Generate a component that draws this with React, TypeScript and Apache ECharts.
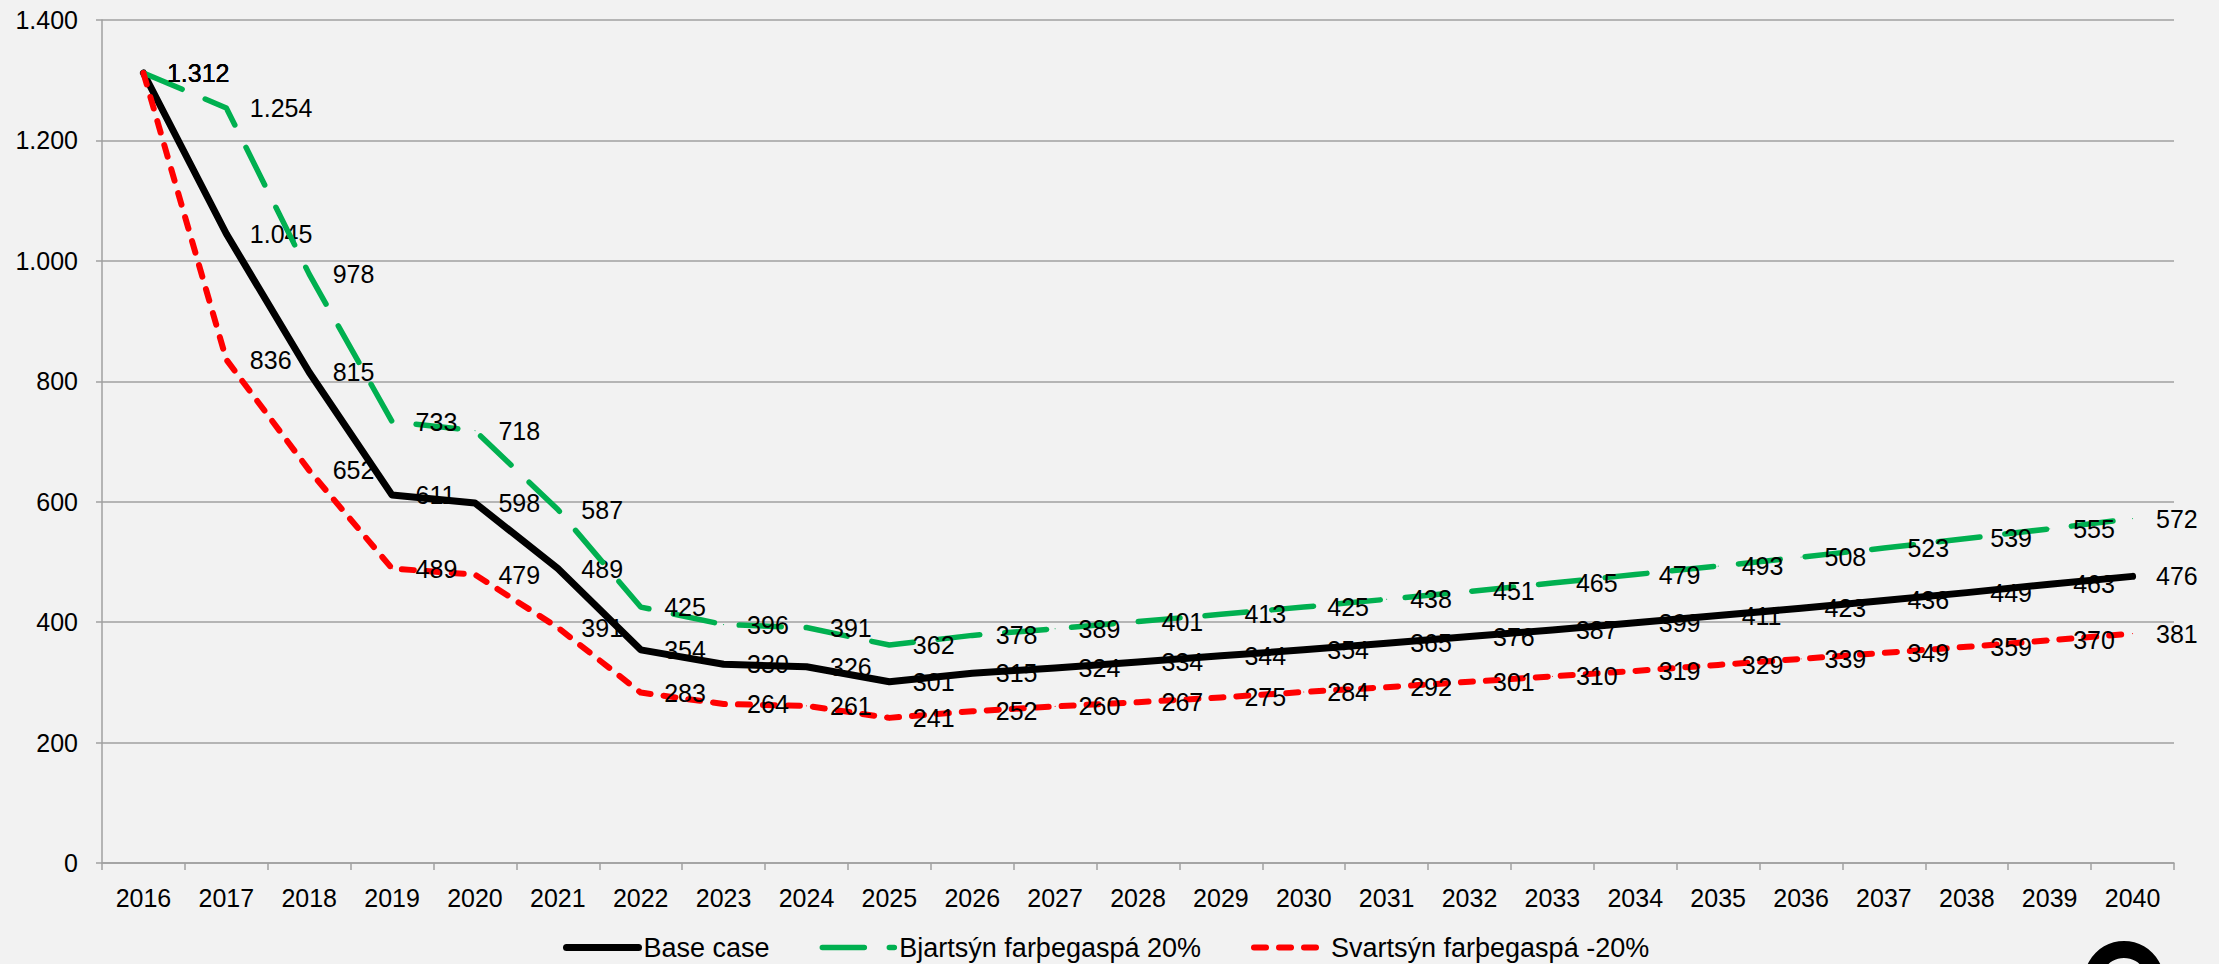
import React, { useEffect, useRef } from "react";
import * as echarts from "echarts";

const years = [
  "2016", "2017", "2018", "2019", "2020", "2021", "2022", "2023", "2024", "2025",
  "2026", "2027", "2028", "2029", "2030", "2031", "2032", "2033", "2034", "2035",
  "2036", "2037", "2038", "2039", "2040",
];

const baseCase = [
  1312, 1045, 815, 611, 598, 489, 354, 330, 326, 301,
  315, 324, 334, 344, 354, 365, 376, 387, 399, 411,
  423, 436, 449, 463, 476,
];

const optimistic = [
  1312, 1254, 978, 733, 718, 587, 425, 396, 391, 362,
  378, 389, 401, 413, 425, 438, 451, 465, 479, 493,
  508, 523, 539, 555, 572,
];

const pessimistic = [
  1312, 836, 652, 489, 479, 391, 283, 264, 261, 241,
  252, 260, 267, 275, 284, 292, 301, 310, 319, 329,
  339, 349, 359, 370, 381,
];

const seriesNames = [
  "Base case",
  "Bjartsýn farþegaspá 20%",
  "Svartsýn farþegaspá -20%",
];

const FONT = "'Liberation Sans', Arial, sans-serif";

function fmt(v: number): string {
  const s = Math.round(v).toString();
  return s.replace(/\B(?=(\d{3})+(?!\d))/g, ".");
}

export default function App() {
  const ref = useRef<HTMLDivElement | null>(null);

  useEffect(() => {
    if (!ref.current) return;
    const chart = echarts.init(ref.current, undefined, { renderer: "svg" });

    const gridColor = "#a0a0a0";
    const labelCfg = {
      show: true,
      position: "right" as const,
      distance: 23,
      color: "#000",
      fontSize: 25,
      fontFamily: FONT,
      formatter: (p: any) => fmt(p.value),
    };

    chart.setOption({
      animation: false,
      backgroundColor: "#f2f2f2",
      textStyle: { fontFamily: FONT },
      grid: { left: 102, right: 45, top: 20, bottom: 101, containLabel: false },
      legend: {
        data: seriesNames,
        left: 563,
        top: 934,
        padding: 0,
        itemWidth: 72,
        itemHeight: 14,
        itemGap: 50,
        textStyle: { fontSize: 27, color: "#000", fontFamily: FONT },
        itemStyle: { opacity: 0 },
        lineStyle: { width: "inherit", type: "inherit", cap: "inherit" },
      },
      xAxis: {
        type: "category",
        data: years,
        boundaryGap: true,
        axisLine: { show: true, lineStyle: { color: gridColor, width: 1.5 } },
        axisTick: { show: true, length: 7, lineStyle: { color: gridColor, width: 1.5 } },
        axisLabel: { fontSize: 25, color: "#000", fontFamily: FONT, margin: 22, interval: 0 },
        splitLine: { show: false },
      },
      yAxis: {
        type: "value",
        min: 0,
        max: 1400,
        interval: 200,
        axisLine: { show: true, lineStyle: { color: gridColor, width: 1.5 } },
        axisTick: { show: true, length: 6, lineStyle: { color: gridColor, width: 1.5 } },
        axisLabel: {
          fontSize: 25,
          color: "#000",
          fontFamily: FONT,
          margin: 24,
          formatter: (v: number) => fmt(v),
        },
        splitLine: { show: true, lineStyle: { color: gridColor, width: 1.5 } },
      },
      series: [
        {
          name: seriesNames[0],
          type: "line",
          data: baseCase,
          symbol: "circle",
          symbolSize: 1,
          itemStyle: { color: "#000000" },
          lineStyle: { color: "#000000", width: 7, cap: "round", join: "round" },
          label: labelCfg,
          z: 2,
        },
        {
          name: seriesNames[1],
          type: "line",
          data: optimistic,
          symbol: "circle",
          symbolSize: 1,
          itemStyle: { color: "#00b050" },
          lineStyle: {
            color: "#00b050",
            width: 5.5,
            type: [42, 25],
            cap: "round",
            join: "round",
          },
          label: labelCfg,
          z: 3,
        },
        {
          name: seriesNames[2],
          type: "line",
          data: pessimistic,
          symbol: "circle",
          symbolSize: 1,
          itemStyle: { color: "#ff0000" },
          lineStyle: {
            color: "#ff0000",
            width: 6,
            type: [12, 13],
            cap: "round",
            join: "round",
          },
          label: labelCfg,
          z: 4,
        },
      ],
      graphic: [
        {
          type: "ring",
          shape: { cx: 2124, cy: 981, r: 40, r0: 23 },
          style: { fill: "#000" },
          silent: true,
        },
      ],
    });

    return () => {
      chart.dispose();
    };
  }, []);

  return (
    <div
      ref={ref}
      style={{ position: "absolute", left: 0, top: 0, width: 2219, height: 964 }}
    />
  );
}
